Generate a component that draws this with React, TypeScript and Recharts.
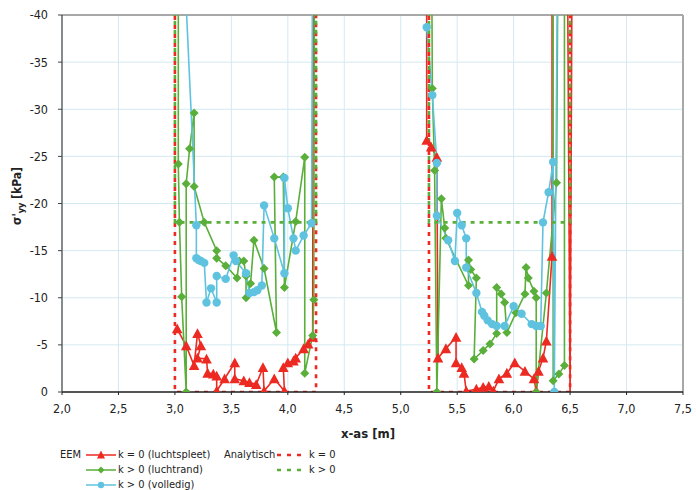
import React from 'react';
import { ComposedChart, Line, XAxis, YAxis, CartesianGrid, ReferenceLine, Label } from 'recharts';

const FONT = "'Liberation Sans Narrow', 'DejaVu Sans Condensed', 'Liberation Sans', Arial, sans-serif";
const RED = '#ec2a22';
const GREEN = '#5aae3a';
const BLUE = '#5fc3e0';

const xTicks = [2, 2.5, 3, 3.5, 4, 4.5, 5, 5.5, 6, 6.5, 7, 7.5];
const yTicks = [0, -5, -10, -15, -20, -25, -30, -35, -40];

// -80 marks values that run off the top of the scale; null breaks a line
const eemK0X = [3.02, 3.10, 3.17, 3.20, 3.23, 3.20, 3.28, 3.29, 3.34, 3.37, 3.37, 3.44, 3.53, 3.53, 3.61, 3.66, 3.72, 3.78, 3.79, 3.88, 3.97, 3.96, 4.00, 4.05, 4.07, 4.14, 4.18, 4.22, 4.23,
  4.75,
  5.23, 5.23, 5.27, 5.32, 5.33, 5.40, 5.49, 5.49, 5.54, 5.56, 5.58, 5.67, 5.73, 5.78, 5.82, 5.87, 5.94, 6.01, 6.10, 6.18, 6.20, 6.22, 6.26, 6.29, 6.34, 6.34,
  6.40,
  6.46, 6.50, 6.53];
const eemK0Y = [-6.7, -4.9, -2.8, -6.2, -4.9, -3.6, -3.5, -2.0, -1.9, -1.7, -0.1, -1.4, -3.1, -1.4, -1.2, -1.0, -0.8, -2.6, -0.1, -1.4, -0.1, -2.6, -3.1, -3.3, -3.6, -4.6, -5.1, -5.8, -80,
  null,
  -80, -26.7, -26.0, -24.9, -3.6, -4.6, -5.8, -3.1, -2.6, -2.0, -0.1, -0.3, -0.5, -0.6, -0.1, -1.4, -2.0, -3.1, -2.2, -1.4, -0.1, -2.2, -3.6, -5.4, -14.4, -80,
  null,
  -80, 0.5, -80];

const eemRandX = [3.03, 3.03, 3.04, 3.06, 3.10, 3.10, 3.13, 3.17, 3.17, 3.26, 3.37, 3.37, 3.45, 3.55, 3.57, 3.61, 3.63, 3.63, 3.67, 3.70, 3.79, 3.90, 3.88, 3.96, 3.97, 4.07, 4.15, 4.15, 4.22, 4.23, 4.24,
  4.75,
  5.26, 5.28, 5.30, 5.32, 5.36, 5.39, 5.40, 5.60, 5.60, 5.62, 5.67, 5.65, 5.73, 5.79, 5.85, 5.85, 5.89, 5.92, 5.94, 6.02, 6.10, 6.11, 6.13, 6.18, 6.20, 6.20, 6.29, 6.38, 6.41,
  6.38,
  6.35, 6.35, 6.40, 6.45, 6.45];
const eemRandY = [-80, -24.2, -18.0, -10.1, 0, -22.1, -25.8, -29.6, -21.8, -18.0, -15.0, -14.2, -13.4, -12.1, -13.9, -13.9, -12.3, -10.0, -11.5, -16.1, -13.1, -6.3, -22.8, -22.8, -11.1, -18.1, -24.9, -2.0, -6.0, -9.8, -80,
  null,
  -80, -32.2, -23.5, 0, -20.5, -17.4, -16.3, -11.3, -14.0, -13.0, -12.1, -3.5, -4.4, -5.1, -6.2, -11.1, -10.4, -9.5, -6.3, -8.4, -10.4, -13.2, -12.1, -10.7, -10.0, 0, -10.5, -22.2, -80,
  null,
  -80, -1.2, -1.9, -2.8, -80];

const eemVolX = [3.10, 3.19, 3.19, 3.21, 3.23, 3.26, 3.28, 3.32, 3.37, 3.37, 3.45, 3.52, 3.54, 3.63, 3.66, 3.70, 3.73, 3.77, 3.79, 3.88, 3.97, 3.97, 4.00, 4.05, 4.07, 4.14, 4.21, 4.23,
  4.75,
  5.23, 5.28, 5.32, 5.32, 5.42, 5.48, 5.50, 5.54, 5.58, 5.58, 5.67, 5.72, 5.74, 5.77, 5.81, 5.85, 5.92, 6.00, 6.07, 6.16, 6.20, 6.24, 6.26, 6.31, 6.35, 6.36, 6.41];
const eemVolY = [-41, -17.7, -14.2, -14.0, -13.9, -13.7, -9.5, -11.0, -9.5, -12.3, -12.0, -14.5, -13.9, -12.6, -10.5, -10.6, -10.8, -11.3, -19.8, -16.3, -12.6, -22.7, -19.5, -16.3, -15.0, -16.6, -17.9, -80,
  null,
  -38.7, -31.5, -24.3, -18.7, -16.1, -13.9, -19.0, -17.7, -16.3, -13.2, -10.5, -8.5, -8.1, -7.6, -7.2, -7.0, -7.0, -9.1, -8.3, -7.2, -7.0, -7.0, -18.0, -21.2, -24.4, 0, -80];

const anaK0X = [3.0, 3.0, 4.25, 4.25, 4.75, 5.25, 5.25, 6.5, 6.5];
const anaK0Y = [-80, 0, 0, -80, null, -80, 0, 0, -80];
const anaKpX = [3.0, 3.0, 4.25, 4.25, 4.75, 5.25, 5.25, 6.5, 6.5];
const anaKpY = [-80, -18, -18, -80, null, -80, -18, -18, -80];

const zip = (xs: number[], ys: (number | null)[]) => xs.map((x, i) => ({ x, y: ys[i] }));

const inRange = (p: any) => p && p.y !== null && p.y !== undefined && p.y >= -40 && p.y <= 0;

const Tri = (props: any) => {
  const { cx, cy, payload, index } = props;
  if (!inRange(payload) || cx == null || cy == null || isNaN(cy)) return <g key={`t${index}`} />;
  const s = 5.3;
  return <path key={`t${index}`} d={`M${cx},${cy - s} L${cx + s},${cy + s * 0.85} L${cx - s},${cy + s * 0.85} Z`} fill={RED} />;
};
const Dia = (props: any) => {
  const { cx, cy, payload, index } = props;
  if (!inRange(payload) || cx == null || cy == null || isNaN(cy)) return <g key={`d${index}`} />;
  const s = 4.5;
  return <path key={`d${index}`} d={`M${cx},${cy - s} L${cx + s},${cy} L${cx},${cy + s} L${cx - s},${cy} Z`} fill={GREEN} />;
};
const Circ = (props: any) => {
  const { cx, cy, payload, index } = props;
  if (!inRange(payload) || cx == null || cy == null || isNaN(cy)) return <g key={`c${index}`} />;
  return <circle key={`c${index}`} cx={cx} cy={cy} r={4.2} fill={BLUE} />;
};

const fmtX = (v: number) => v.toFixed(1).replace('.', ',');

const YLabel = () => (
  <text transform="translate(21,196) rotate(-90)" textAnchor="middle" fontFamily={FONT} fontSize={12} fontWeight="bold" fill="#222">
    <tspan>σ'</tspan><tspan fontSize={9} dy={3}>yy</tspan><tspan dy={-3}> [kPa]</tspan>
  </text>
);

const XLabel = () => (
  <text x={368} y={438} textAnchor="middle" fontFamily={FONT} fontSize={13} fontWeight="bold" fill="#222">x-as [m]</text>
);

const legendText: React.CSSProperties = { position: 'absolute', fontFamily: FONT, fontSize: 11, color: '#222', lineHeight: '12px', whiteSpace: 'nowrap' };

const LegendSample = ({ left, top, color, dashed, marker }: any) => (
  <svg style={{ position: 'absolute', left, top: top - 6 }} width={32} height={12}>
    <line x1={1} y1={6} x2={31} y2={6} stroke={color} strokeWidth={dashed ? 2.5 : 1.5} strokeDasharray={dashed ? '4 6' : undefined} />
    {marker === 'tri' && <path d="M16,1.5 L20,9.5 L12,9.5 Z" fill={color} />}
    {marker === 'dia' && <path d="M16,2.5 L19.5,6 L16,9.5 L12.5,6 Z" fill={color} />}
    {marker === 'circ' && <circle cx={16} cy={6} r={3.2} fill={color} />}
  </svg>
);

export default function App() {
  return (
    <div style={{ position: 'absolute', left: 0, top: 0, width: 696, height: 490, background: '#fff' }}>
      <ComposedChart width={696} height={445} margin={{ top: 15, right: 13, left: 22, bottom: 13 }}>
        <CartesianGrid stroke="#d3e9f2" strokeWidth={1} />
        <XAxis
          type="number"
          dataKey="x"
          domain={[2, 7.5]}
          ticks={xTicks}
          tickFormatter={fmtX}
          allowDataOverflow
          height={40}
          tickSize={3}
          tickMargin={9}
          axisLine={{ stroke: '#222', strokeWidth: 1.5 }}
          tickLine={{ stroke: '#222' }}
          tick={{ fontFamily: FONT, fontSize: 12.5, fill: '#222' }}
        >
          <Label content={<XLabel />} />
        </XAxis>
        <YAxis
          type="number"
          dataKey="y"
          domain={[-40, 0]}
          ticks={yTicks}
          reversed
          allowDataOverflow
          width={40}
          tickSize={4}
          tickMargin={10}
          axisLine={{ stroke: '#444', strokeWidth: 1.2 }}
          tickLine={{ stroke: '#444' }}
          tick={{ fontFamily: FONT, fontSize: 12.5, fill: '#222' }}
        >
          <Label content={<YLabel />} />
        </YAxis>
        <ReferenceLine y={-40} stroke="#a8a8a8" strokeWidth={2} />
        <ReferenceLine x={7.5} stroke="#a8a8a8" strokeWidth={2} />
        <Line data={zip(eemK0X, eemK0Y)} dataKey="y" type="linear" stroke={RED} strokeWidth={1.6} dot={Tri} activeDot={false} isAnimationActive={false} connectNulls={false} />
        <Line data={zip(eemRandX, eemRandY)} dataKey="y" type="linear" stroke={GREEN} strokeWidth={1.6} dot={Dia} activeDot={false} isAnimationActive={false} connectNulls={false} />
        <Line data={zip(eemVolX, eemVolY)} dataKey="y" type="linear" stroke={BLUE} strokeWidth={1.6} dot={Circ} activeDot={false} isAnimationActive={false} connectNulls={false} />
        <Line data={zip(anaK0X, anaK0Y)} dataKey="y" type="linear" stroke={RED} strokeWidth={2.6} strokeDasharray="4 5" dot={false} activeDot={false} isAnimationActive={false} connectNulls={false} />
        <Line data={zip(anaKpX, anaKpY)} dataKey="y" type="linear" stroke={GREEN} strokeWidth={2.6} strokeDasharray="4 5" strokeDashoffset={4} dot={false} activeDot={false} isAnimationActive={false} connectNulls={false} />
      </ComposedChart>

      <div style={{ ...legendText, left: 60, top: 449 }}>EEM</div>
      <LegendSample left={85} top={455} color={RED} marker="tri" />
      <div style={{ ...legendText, left: 118, top: 449 }}>k = 0 (luchtspleet)</div>
      <LegendSample left={85} top={470} color={GREEN} marker="dia" />
      <div style={{ ...legendText, left: 118, top: 464 }}>k &gt; 0 (luchtrand)</div>
      <LegendSample left={85} top={485} color={BLUE} marker="circ" />
      <div style={{ ...legendText, left: 118, top: 479 }}>k &gt; 0 (volledig)</div>

      <div style={{ ...legendText, left: 224, top: 449 }}>Analytisch</div>
      <LegendSample left={276} top={455} color={RED} dashed />
      <div style={{ ...legendText, left: 309, top: 449 }}>k = 0</div>
      <LegendSample left={276} top={470} color={GREEN} dashed />
      <div style={{ ...legendText, left: 309, top: 464 }}>k &gt; 0</div>
    </div>
  );
}
